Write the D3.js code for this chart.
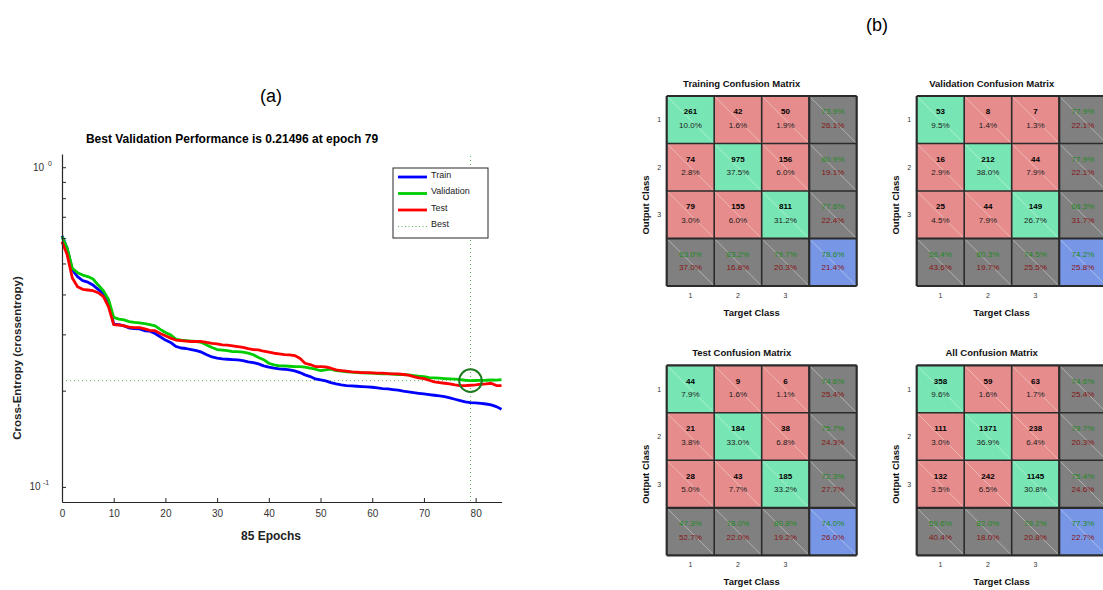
<!DOCTYPE html>
<html>
<head>
<meta charset="utf-8">
<script src="https://cdn.jsdelivr.net/npm/d3@7"></script>
<style>
  html, body { margin: 0; padding: 0; background: #fff; }
  svg { display: block; font-family: "Liberation Sans", Arial, sans-serif; }
</style>
</head>
<body>
<svg id="fig" width="1103" height="590"></svg>
<script>
// ---- Training performance (cross-entropy per epoch) ----
const epochs = d3.range(0, 86);
const trainPerf = [
  0.610, 0.558, 0.477, 0.455, 0.442, 0.437, 0.428, 0.415, 0.403, 0.380,
  0.323, 0.322, 0.319, 0.314, 0.313, 0.312, 0.308, 0.307, 0.302, 0.295,
  0.288, 0.283, 0.275, 0.272, 0.271, 0.269, 0.267, 0.264, 0.259, 0.255,
  0.253, 0.2514, 0.2508, 0.2502, 0.2496, 0.2484, 0.2461, 0.2449, 0.2425, 0.2391,
  0.2368, 0.2351, 0.2340, 0.2334, 0.2323, 0.2306, 0.2279, 0.2241, 0.2214, 0.2177,
  0.2161, 0.2146, 0.2120, 0.2100, 0.2085, 0.2075, 0.2070, 0.2065, 0.2060, 0.2055,
  0.2050, 0.2040, 0.2031, 0.2026, 0.2016, 0.2007, 0.1992, 0.1982, 0.1973, 0.1963,
  0.1954, 0.1944, 0.1935, 0.1926, 0.1917, 0.1898, 0.1880, 0.1862, 0.1844, 0.1835,
  0.1831, 0.1826, 0.1817, 0.1805, 0.1783, 0.1749
];
const valPerf = [
  0.607, 0.558, 0.483, 0.468, 0.460, 0.455, 0.447, 0.428, 0.411, 0.386,
  0.339, 0.335, 0.333, 0.329, 0.327, 0.326, 0.324, 0.322, 0.319, 0.311,
  0.304, 0.299, 0.290, 0.288, 0.287, 0.286, 0.285, 0.283, 0.278, 0.273,
  0.269, 0.268, 0.267, 0.265, 0.265, 0.264, 0.262, 0.259, 0.254, 0.250,
  0.2437, 0.2408, 0.2391, 0.2391, 0.2385, 0.2380, 0.2380, 0.2368, 0.2351, 0.2334,
  0.2312, 0.2323, 0.2334, 0.2312, 0.2301, 0.2290, 0.2285, 0.2279, 0.2274, 0.2268,
  0.2268, 0.2263, 0.2258, 0.2258, 0.2252, 0.2247, 0.2247, 0.2241, 0.2230, 0.2219,
  0.2214, 0.2198, 0.2193, 0.2188, 0.2182, 0.2177, 0.2172, 0.2167, 0.2156, 0.21496,
  0.2152, 0.2155, 0.2156, 0.2160, 0.2157, 0.2166
];
const testPerf = [
  0.585, 0.532, 0.450, 0.423, 0.415, 0.413, 0.411, 0.405, 0.394, 0.366,
  0.322, 0.321, 0.319, 0.316, 0.315, 0.315, 0.312, 0.309, 0.308, 0.302,
  0.297, 0.292, 0.288, 0.287, 0.286, 0.285, 0.285, 0.285, 0.283, 0.2814,
  0.2801, 0.2781, 0.2775, 0.2762, 0.2747, 0.2734, 0.2708, 0.2689, 0.2682, 0.2657,
  0.2638, 0.2619, 0.2606, 0.2593, 0.2587, 0.2575, 0.2526, 0.2437, 0.2414, 0.2380,
  0.2380, 0.2374, 0.2351, 0.2323, 0.2312, 0.2301, 0.2290, 0.2285, 0.2279, 0.2279,
  0.2274, 0.2268, 0.2268, 0.2263, 0.2258, 0.2258, 0.2247, 0.2236, 0.2214, 0.2193,
  0.2182, 0.2156, 0.2130, 0.2120, 0.2110, 0.2100, 0.2085, 0.2075, 0.2075, 0.2080,
  0.2085, 0.2095, 0.2100, 0.2110, 0.2075, 0.2075
];
const bestEpoch = 79;
const xTickValues = [0, 10, 20, 30, 40, 50, 60, 70, 80];
const yMajorTicks = [0.1, 1];
const yMinorTicks = [0.2, 0.3, 0.4, 0.5, 0.6, 0.7, 0.8, 0.9];
const legendLabels = ["Train", "Validation", "Test", "Best"];

// ---- Confusion matrices (rows: output class, columns: target class) ----
const classLabels = ["1", "2", "3"];
const trainCM = [[261, 42, 50], [74, 975, 156], [79, 155, 811]];
const validCM = [[53, 8, 7], [16, 212, 44], [25, 44, 149]];
const testCM  = [[44, 9, 6], [21, 184, 38], [28, 43, 185]];
const allCM   = [[358, 59, 63], [111, 1371, 238], [132, 242, 1145]];
const matrixTitles = ["Training Confusion Matrix", "Validation Confusion Matrix",
                      "Test Confusion Matrix", "All Confusion Matrix"];

const svg = d3.select("#fig");
const AXIS = "#262626";

// ================= (a) performance plot =================
const plot = { left: 62, right: 501.5, top: 154, bottom: 502 };
const x = d3.scaleLinear().domain([0, 85]).range([plot.left, plot.right]);
const y = d3.scaleLog().domain([0.0897, 1.1]).range([plot.bottom, plot.top]);

svg.append("text").attr("x", 271).attr("y", 102).attr("text-anchor", "middle")
  .attr("font-size", 18).attr("fill", "#000").text("(a)");

svg.append("text").attr("x", 232).attr("y", 143).attr("text-anchor", "middle")
  .attr("font-size", 12).attr("font-weight", "bold").attr("fill", "#000")
  .text("Best Validation Performance is " + valPerf[bestEpoch] + " at epoch " + bestEpoch);

// best-epoch guide lines
const bestVal = valPerf[bestEpoch];
svg.append("line")
  .attr("x1", x(0)).attr("x2", x(85)).attr("y1", y(bestVal)).attr("y2", y(bestVal))
  .attr("stroke", "#55b855").attr("stroke-width", 1).attr("stroke-dasharray", "1,3");
svg.append("line")
  .attr("x1", x(bestEpoch)).attr("x2", x(bestEpoch)).attr("y1", plot.top + 2).attr("y2", plot.bottom)
  .attr("stroke", "#55b855").attr("stroke-width", 1).attr("stroke-dasharray", "1,3");

const series = [
  { name: "Train", values: trainPerf, color: "#0000ff" },
  { name: "Validation", values: valPerf, color: "#00cc00" },
  { name: "Test", values: testPerf, color: "#ff0000" }
];
const line = d3.line().x((d, i) => x(epochs[i])).y(d => y(d));
series.forEach(s => {
  svg.append("path").datum(s.values).attr("d", line)
    .attr("fill", "none").attr("stroke", s.color).attr("stroke-width", 2.8)
    .attr("stroke-linejoin", "round");
});

svg.append("circle").attr("cx", x(bestEpoch)).attr("cy", y(bestVal)).attr("r", 11.3)
  .attr("fill", "none").attr("stroke", "#1e7a1e").attr("stroke-width", 2);

// axes
const xAxis = d3.axisBottom(x).tickValues(xTickValues).tickSizeInner(-4).tickSizeOuter(0).tickPadding(8);
const gx = svg.append("g").attr("transform", `translate(0,${plot.bottom})`).call(xAxis);
gx.select(".domain").attr("stroke", AXIS).attr("stroke-width", 1.2);
gx.selectAll(".tick line").attr("stroke", AXIS);
gx.selectAll(".tick text").attr("font-size", 10).attr("fill", "#333")
  .attr("font-family", "Liberation Sans, Arial, sans-serif");

const yAxis = d3.axisLeft(y).tickValues(yMajorTicks.concat(yMinorTicks))
  .tickSizeInner(-4).tickSizeOuter(0).tickFormat("");
const gy = svg.append("g").attr("transform", `translate(${plot.left},0)`).call(yAxis);
gy.select(".domain").attr("stroke", AXIS).attr("stroke-width", 1.2);
gy.selectAll(".tick line").attr("stroke", AXIS);

yMajorTicks.forEach(v => {
  const e = Math.round(Math.log10(v));
  svg.append("text").attr("x", e === 0 ? 44 : 40.5).attr("y", y(v) + 3.5)
    .attr("text-anchor", "end").attr("font-size", 10).attr("fill", "#333").text("10");
  svg.append("text").attr("x", e === 0 ? 48 : 43).attr("y", y(v) - 1.5)
    .attr("font-size", 7).attr("fill", "#333").text(String(e));
});

svg.append("text").attr("x", 271).attr("y", 540).attr("text-anchor", "middle")
  .attr("font-size", 12).attr("font-weight", "bold").attr("fill", "#222").text("85 Epochs");
svg.append("text").attr("transform", "translate(21,358) rotate(-90)").attr("text-anchor", "middle")
  .attr("font-size", 11.5).attr("font-weight", "bold").attr("fill", "#222")
  .text("Cross-Entropy  (crossentropy)");

// legend
const lg = svg.append("g").attr("transform", "translate(393,168)");
lg.append("rect").attr("width", 95).attr("height", 70).attr("fill", "#fff")
  .attr("stroke", AXIS).attr("stroke-width", 1);
const legendColors = ["#0000ff", "#00cc00", "#ff0000", "#55b855"];
legendLabels.forEach((lab, i) => {
  const yy = 9 + i * 16.5;
  lg.append("line").attr("x1", 5).attr("x2", 34).attr("y1", yy).attr("y2", yy)
    .attr("stroke", legendColors[i]).attr("stroke-width", i === 3 ? 1 : 2.8)
    .attr("stroke-dasharray", i === 3 ? "1,2.5" : null);
  lg.append("text").attr("x", 38).attr("y", yy + 0.5).attr("font-size", 9)
    .attr("fill", "#222").text(lab);
});

// ================= (b) confusion matrices =================
svg.append("text").attr("x", 877).attr("y", 31).attr("text-anchor", "middle")
  .attr("font-size", 18).attr("fill", "#000").text("(b)");

const CELL = 47.5;
const panels = [
  { cm: trainCM, left: 666.7, top: 96 },
  { cm: validCM, left: 916.7, top: 96 },
  { cm: testCM,  left: 666.7, top: 365.3 },
  { cm: allCM,   left: 916.7, top: 365.3 }
];
const fmt = v => v.toFixed(1) + "%";
const COLORS = { hit: "#78e6b4", miss: "#e68c8c", stat: "#808080", total: "#7896e6" };
const GOOD = "#1d8a1d", BAD = "#861414";

panels.forEach((p, k) => {
  const cm = p.cm;
  const total = d3.sum(cm.flat());
  const rowSums = cm.map(r => d3.sum(r));
  const colSums = [0, 1, 2].map(c => d3.sum(cm, r => r[c]));
  const correct = d3.sum([0, 1, 2], i => cm[i][i]);

  const cx = d3.scaleBand().domain([0, 1, 2, 3]).range([p.left, p.left + 4 * CELL]);
  const cy = d3.scaleBand().domain([0, 1, 2, 3]).range([p.top, p.top + 4 * CELL]);
  const g = svg.append("g");

  const cells = [];
  for (let r = 0; r < 4; r++) for (let c = 0; c < 4; c++) {
    let fill, top, bottom, topColor, bottomColor, topBold = false;
    if (r < 3 && c < 3) {
      fill = r === c ? COLORS.hit : COLORS.miss;
      top = String(cm[r][c]); bottom = fmt(100 * cm[r][c] / total);
      topColor = "#000"; bottomColor = "#1a1a1a"; topBold = true;
    } else {
      let acc;
      if (r < 3) { acc = 100 * cm[r][r] / rowSums[r]; fill = COLORS.stat; }
      else if (c < 3) { acc = 100 * cm[c][c] / colSums[c]; fill = COLORS.stat; }
      else { acc = 100 * correct / total; fill = COLORS.total; }
      top = fmt(acc); bottom = fmt(100 - acc);
      topColor = GOOD; bottomColor = BAD;
    }
    cells.push({ r, c, fill, top, bottom, topColor, bottomColor, topBold });
  }

  cells.forEach(d => {
    const x0 = cx(d.c), y0 = cy(d.r), w = cx.bandwidth(), h = cy.bandwidth();
    g.append("rect").attr("x", x0).attr("y", y0).attr("width", w).attr("height", h)
      .attr("fill", d.fill);
    g.append("line").attr("x1", x0).attr("y1", y0).attr("x2", x0 + w).attr("y2", y0 + h)
      .attr("stroke", "#fff").attr("stroke-opacity", 0.55).attr("stroke-width", 0.7);
    g.append("text").attr("x", x0 + w / 2).attr("y", y0 + h / 2 - 8)
      .attr("dominant-baseline", "central").attr("text-anchor", "middle")
      .attr("font-size", 8).attr("font-weight", d.topBold ? "bold" : "normal")
      .attr("fill", d.topColor).text(d.top);
    g.append("text").attr("x", x0 + w / 2).attr("y", y0 + h / 2 + 5.5)
      .attr("dominant-baseline", "central").attr("text-anchor", "middle")
      .attr("font-size", 8).attr("fill", d.bottomColor).text(d.bottom);
  });

  // grid lines
  for (let i = 0; i <= 4; i++) {
    const thick = (i === 0 || i === 3 || i === 4) ? 2.2 : 1.6;
    g.append("line").attr("x1", cx.range()[0] + i * CELL).attr("x2", cx.range()[0] + i * CELL)
      .attr("y1", p.top).attr("y2", p.top + 4 * CELL).attr("stroke", "#2b2b2b").attr("stroke-width", thick);
    g.append("line").attr("y1", p.top + i * CELL).attr("y2", p.top + i * CELL)
      .attr("x1", p.left).attr("x2", p.left + 4 * CELL).attr("stroke", "#2b2b2b").attr("stroke-width", thick);
  }

  // class labels
  classLabels.forEach((lab, i) => {
    g.append("text").attr("x", p.left - 7.5).attr("y", cy(i) + CELL / 2 + 2.5)
      .attr("text-anchor", "middle").attr("font-size", 7).attr("fill", "#333").text(lab);
    g.append("text").attr("x", cx(i) + CELL / 2).attr("y", p.top + 4 * CELL + 12)
      .attr("text-anchor", "middle").attr("font-size", 7).attr("fill", "#333").text(lab);
  });

  g.append("text").attr("x", p.left + 75).attr("y", p.top - 9).attr("text-anchor", "middle")
    .attr("font-size", 9.5).attr("font-weight", "bold").attr("fill", "#111").text(matrixTitles[k]);
  g.append("text").attr("x", p.left + 85).attr("y", p.top + 4 * CELL + 30).attr("text-anchor", "middle")
    .attr("font-size", 9.5).attr("font-weight", "bold").attr("fill", "#111").text("Target Class");
  g.append("text").attr("transform", `translate(${p.left - 18},${p.top + 109}) rotate(-90)`)
    .attr("text-anchor", "middle").attr("font-size", 9.5).attr("font-weight", "bold")
    .attr("fill", "#111").text("Output Class");
});
</script>
</body>
</html>
